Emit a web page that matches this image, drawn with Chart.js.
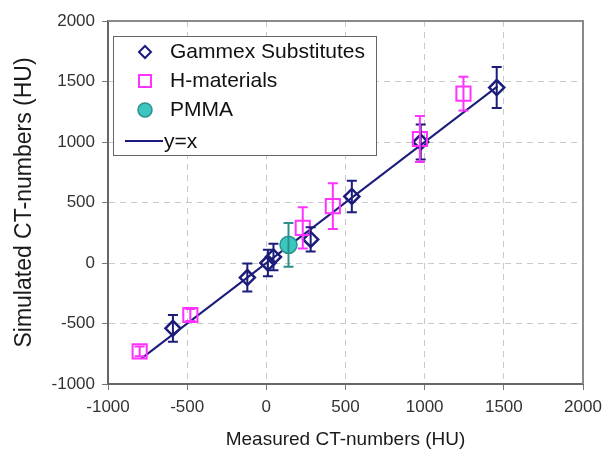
<!DOCTYPE html>
<html>
<head>
<meta charset="utf-8">
<script src="https://cdn.jsdelivr.net/npm/chart.js@4/dist/chart.umd.min.js"></script>
<style>
  html, body { margin: 0; padding: 0; background: #fff; }
  #wrap { width: 616px; height: 459px; position: relative; }
</style>
</head>
<body>
<div id="wrap"><canvas id="ct"></canvas></div>
<script>
// values (HU)
const gammexX   = [-590, -120, 10, 45, 280, 540, 975, 1455];
const gammexY   = [-540, -120, 0, 50, 195, 550, 1000, 1450];
const gammexErr = [110, 115, 110, 110, 100, 130, 145, 170];

const hmatX   = [-800, -480, 230, 420, 970, 1245];
const hmatY   = [-730, -430, 290, 470, 1025, 1400];
const hmatErr = [40, 50, 170, 190, 190, 140];

const pmmaX   = [140];
const pmmaY   = [150];
const pmmaErr = [180];

const lineX = [-790, 1460];   // y = x

const AXIS_MIN = -1000, AXIS_MAX = 2000, AXIS_STEP = 500;

const NAVY = '#1c1c7a';
const MAGENTA = '#ff33ff';
const TEAL = '#3cc6c0';
const TEAL_DARK = '#2e8f8a';
const FONT = "'Liberation Sans', Arial, sans-serif";

const pts = (xs, ys) => xs.map((x, i) => ({x, y: ys[i]}));

// vertical error bars, drawn through the scales
const errorBars = {
  id: 'errorBars',
  afterDatasetsDraw(chart) {
    const {ctx, scales: {x, y}} = chart;
    chart.data.datasets.forEach(ds => {
      if (!ds.err) return;
      ctx.save();
      ctx.strokeStyle = ds.errColor;
      ctx.lineWidth = 2;
      ds.data.forEach((p, i) => {
        const px = x.getPixelForValue(p.x);
        const top = y.getPixelForValue(p.y + ds.err[i]);
        const bot = y.getPixelForValue(p.y - ds.err[i]);
        ctx.beginPath();
        ctx.moveTo(px, top); ctx.lineTo(px, bot);
        ctx.moveTo(px - 5, top); ctx.lineTo(px + 5, top);
        ctx.moveTo(px - 5, bot); ctx.lineTo(px + 5, bot);
        ctx.stroke();
      });
      ctx.restore();
    });
  }
};

// frame around plot + boxed legend in the upper left
const frameAndLegend = {
  id: 'frameAndLegend',
  afterDraw(chart) {
    const {ctx, chartArea: a} = chart;
    ctx.save();
    ctx.strokeStyle = '#8a8a8a';
    ctx.lineWidth = 2;
    ctx.beginPath();
    ctx.moveTo(a.left, a.top); ctx.lineTo(a.right, a.top); ctx.lineTo(a.right, a.bottom);
    ctx.stroke();

    const bx = a.left + 5, by = a.top + 15, bw = 263, bh = 119;
    ctx.fillStyle = '#fff';
    ctx.fillRect(bx, by, bw, bh);
    ctx.strokeStyle = '#666';
    ctx.lineWidth = 1;
    ctx.strokeRect(bx + 0.5, by + 0.5, bw, bh);

    const mx = bx + 32, tx = bx + 57;
    const rows = [by + 16, by + 45, by + 74, by + 105];
    ctx.font = '21px ' + FONT;
    ctx.textBaseline = 'middle';
    ctx.textAlign = 'left';
    const labels = chart.data.datasets.map(d => d.label);

    // diamond
    ctx.lineWidth = 2;
    ctx.strokeStyle = NAVY;
    ctx.beginPath();
    ctx.moveTo(mx, rows[0] - 6); ctx.lineTo(mx + 6, rows[0]);
    ctx.lineTo(mx, rows[0] + 6); ctx.lineTo(mx - 6, rows[0]); ctx.closePath();
    ctx.stroke();
    // square
    ctx.strokeStyle = MAGENTA;
    ctx.strokeRect(mx - 6, rows[1] - 6, 12, 12);
    // circle
    ctx.fillStyle = TEAL;
    ctx.strokeStyle = TEAL_DARK;
    ctx.lineWidth = 1.5;
    ctx.beginPath(); ctx.arc(mx, rows[2], 7, 0, Math.PI * 2); ctx.fill(); ctx.stroke();
    // line
    ctx.strokeStyle = NAVY;
    ctx.lineWidth = 2;
    ctx.beginPath(); ctx.moveTo(bx + 12, rows[3]); ctx.lineTo(bx + 50, rows[3]); ctx.stroke();

    ctx.fillStyle = '#111';
    ctx.fillText(labels[1], tx, rows[0]);
    ctx.fillText(labels[2], tx, rows[1]);
    ctx.fillText(labels[3], tx, rows[2]);
    ctx.fillText(labels[0], bx + 51, rows[3] + 1);
    ctx.restore();
  }
};

const axis = (title, titleSize, titlePad, fitFn) => ({
  type: 'linear',
  min: AXIS_MIN, max: AXIS_MAX,
  ticks: {stepSize: AXIS_STEP, color: '#333', font: {family: FONT, size: 17}, padding: 7,
          callback: v => String(v)},
  grid: {color: '#c9c9c9', lineWidth: 1, tickLength: 6, tickColor: '#777'},
  border: {color: '#666', width: 2, dash: [6, 5]},
  title: {display: true, text: title, color: '#1a1a1a', font: {family: FONT, size: titleSize}, padding: titlePad},
  afterFit: fitFn
});

new Chart(document.getElementById('ct'), {
  type: 'scatter',
  data: {
    datasets: [
      {
        label: 'y=x',
        type: 'line',
        data: pts(lineX, lineX),
        borderColor: NAVY,
        borderWidth: 2,
        pointRadius: 0,
        fill: false,
        order: 3
      },
      {
        label: 'Gammex Substitutes',
        data: pts(gammexX, gammexY),
        err: gammexErr, errColor: NAVY,
        pointStyle: 'rectRot',
        pointRadius: 7.5,
        borderColor: NAVY,
        backgroundColor: 'rgba(0,0,0,0)',
        borderWidth: 2.5,
        order: 2
      },
      {
        label: 'H-materials',
        data: pts(hmatX, hmatY),
        err: hmatErr, errColor: MAGENTA,
        pointStyle: 'rect',
        pointRadius: 10,
        borderColor: MAGENTA,
        backgroundColor: 'rgba(0,0,0,0)',
        borderWidth: 2,
        order: 1
      },
      {
        label: 'PMMA',
        data: pts(pmmaX, pmmaY),
        err: pmmaErr, errColor: TEAL_DARK,
        pointStyle: 'circle',
        pointRadius: 8.5,
        borderColor: TEAL_DARK,
        backgroundColor: TEAL,
        borderWidth: 1.5,
        order: 0
      }
    ]
  },
  options: {
    responsive: true,
    maintainAspectRatio: false,
    animation: false,
    layout: {padding: {left: 0, top: 21, right: 33, bottom: 0}},
    plugins: {legend: {display: false}, tooltip: {enabled: false}},
    scales: {
      x: axis('Measured CT-numbers (HU)', 19, {top: 8, bottom: 8}, s => { s.height = 75; }),
      y: axis('Simulated CT-numbers (HU)', 23, {top: 11, bottom: 11}, s => { s.width = 108; })
    }
  },
  plugins: [errorBars, frameAndLegend]
});
</script>
</body>
</html>
